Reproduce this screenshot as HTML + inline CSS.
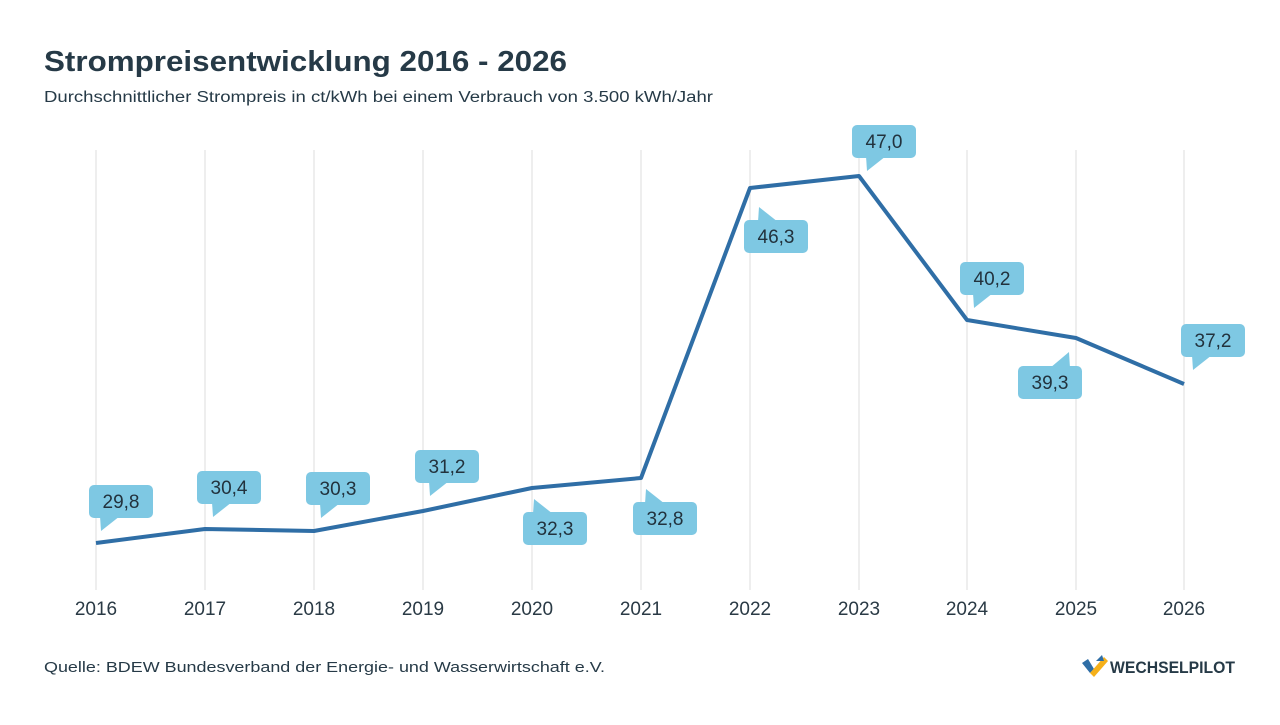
<!DOCTYPE html>
<html><head><meta charset="utf-8"><style>
body{margin:0;width:1280px;height:720px;background:#fff;font-family:"Liberation Sans",sans-serif;overflow:hidden}
</style></head><body>
<svg width="1280" height="720" viewBox="0 0 1280 720" xmlns="http://www.w3.org/2000/svg" font-family="Liberation Sans, sans-serif">
<text x="44" y="71" font-size="29" font-weight="bold" fill="#263a47" textLength="523" lengthAdjust="spacingAndGlyphs">Strompreisentwicklung 2016 - 2026</text>
<text x="44" y="102" font-size="15.5" fill="#263a47" textLength="669" lengthAdjust="spacingAndGlyphs">Durchschnittlicher Strompreis in ct/kWh bei einem Verbrauch von 3.500 kWh/Jahr</text>
<g stroke="#e2e2e2" stroke-width="1.2">
<line x1="96" y1="150" x2="96" y2="590"/><line x1="205" y1="150" x2="205" y2="590"/><line x1="314" y1="150" x2="314" y2="590"/><line x1="423" y1="150" x2="423" y2="590"/><line x1="532" y1="150" x2="532" y2="590"/><line x1="641" y1="150" x2="641" y2="590"/><line x1="750" y1="150" x2="750" y2="590"/><line x1="859" y1="150" x2="859" y2="590"/><line x1="967" y1="150" x2="967" y2="590"/><line x1="1076" y1="150" x2="1076" y2="590"/><line x1="1184" y1="150" x2="1184" y2="590"/>
</g>
<g font-size="19" fill="#2a3a45" text-anchor="middle">
<text x="96" y="615">2016</text><text x="205" y="615">2017</text><text x="314" y="615">2018</text><text x="423" y="615">2019</text><text x="532" y="615">2020</text><text x="641" y="615">2021</text><text x="750" y="615">2022</text><text x="859" y="615">2023</text><text x="967" y="615">2024</text><text x="1076" y="615">2025</text><text x="1184" y="615">2026</text>
</g>
<polyline fill="none" stroke="#2f6ea6" stroke-width="4" stroke-linejoin="round" points="96,543 205,529 314,531 423,511 532,488 641,478 750,188 859,176 967,320 1076,338 1184,384"/>
<g fill="#7ec8e3">
<rect x="89" y="485" width="64" height="33" rx="5"/><polygon points="100,516 120,516 101,531"/>
<rect x="197" y="471" width="64" height="33" rx="5"/><polygon points="212,502 232,502 213,517"/>
<rect x="306" y="472" width="64" height="33" rx="5"/><polygon points="320,503 340,503 321,518"/>
<rect x="415" y="450" width="64" height="33" rx="5"/><polygon points="429,481 449,481 430,496"/>
<rect x="523" y="512" width="64" height="33" rx="5"/><polygon points="533,514 553,514 534,499"/>
<rect x="633" y="502" width="64" height="33" rx="5"/><polygon points="645,504 665,504 646,489"/>
<rect x="744" y="220" width="64" height="33" rx="5"/><polygon points="758,222 778,222 759,207"/>
<rect x="852" y="125" width="64" height="33" rx="5"/><polygon points="866,156 886,156 867,171"/>
<rect x="960" y="262" width="64" height="33" rx="5"/><polygon points="973,293 993,293 974,308"/>
<rect x="1018" y="366" width="64" height="33" rx="5"/><polygon points="1050,368 1070,368 1069,352"/>
<rect x="1181" y="324" width="64" height="33" rx="5"/><polygon points="1192,355 1212,355 1193,370"/>
</g>
<g font-size="19" fill="#22323d" text-anchor="middle">
<text x="121" y="508">29,8</text><text x="229" y="494">30,4</text><text x="338" y="495">30,3</text><text x="447" y="473">31,2</text><text x="555" y="535">32,3</text><text x="665" y="525">32,8</text><text x="776" y="243">46,3</text><text x="884" y="148">47,0</text><text x="992" y="285">40,2</text><text x="1050" y="389">39,3</text><text x="1213" y="347">37,2</text>
</g>
<text x="44" y="672" font-size="15" fill="#263a47" textLength="561" lengthAdjust="spacingAndGlyphs">Quelle: BDEW Bundesverband der Energie- und Wasserwirtschaft e.V.</text>
<g transform="translate(1082,655)">
<polygon points="0,8 6,4 12,14 8,18" fill="#2f6ea6"/>
<polygon points="8,18 22,2 26,6 12,22" fill="#f5b01a"/>
<polygon points="14,6 20,0 22,6" fill="#2f6ea6"/>
</g>
<text x="1110" y="673" font-size="17" font-weight="bold" fill="#263a47" textLength="125" lengthAdjust="spacingAndGlyphs">WECHSELPILOT</text>
</svg>
</body></html>
